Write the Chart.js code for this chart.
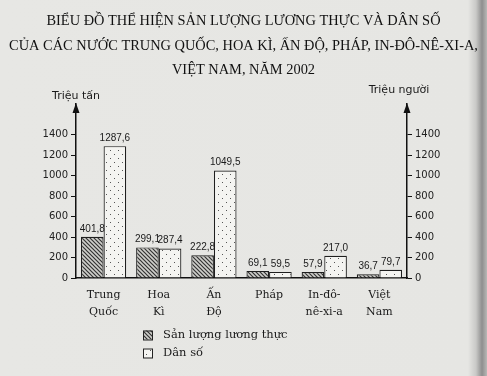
<!DOCTYPE html>
<html>
<head>
<meta charset="utf-8">
<script src="https://cdn.jsdelivr.net/npm/chart.js@4.4.1/dist/chart.umd.min.js"></script>
<style>
  html, body { margin: 0; padding: 0; }
  body {
    width: 487px; height: 376px; overflow: hidden;
    background: linear-gradient(to right, #e7e7e4 0px, #e6e6e3 468px, #c9c9c7 476px, #8e8e8e 482px, #b8b8b6 487px);
  }
  #wrap { position: relative; width: 487px; height: 376px; }
</style>
</head>
<body>
<div id="wrap"><canvas id="c" width="487" height="376"></canvas></div>
<script>
// ---- data ----
const titleLines = [
  'BIỂU ĐỒ THỂ HIỆN SẢN LƯỢNG LƯƠNG THỰC VÀ DÂN SỐ',
  'CỦA CÁC NƯỚC TRUNG QUỐC, HOA KÌ, ẤN ĐỘ, PHÁP, IN-ĐÔ-NÊ-XI-A,',
  'VIỆT NAM, NĂM 2002'
];
const countries = [['Trung', 'Quốc'], ['Hoa', 'Kì'], ['Ấn', 'Độ'], ['Pháp'], ['In-đô-', 'nê-xi-a'], ['Việt', 'Nam']];
const foodOutput = [401.8, 299.1, 222.8, 69.1, 57.9, 36.7];     // triệu tấn
const population = [1287.6, 287.4, 1049.5, 59.5, 217.0, 79.7];  // triệu người
const seriesNames = ['Sản lượng lương thực', 'Dân số'];
const leftAxisTitle = 'Triệu tấn';
const rightAxisTitle = 'Triệu người';
const tickValues = [0, 200, 400, 600, 800, 1000, 1200, 1400];

// ---- patterns ----
function hatchPattern() {
  const t = document.createElement('canvas');
  t.width = 4; t.height = 4;
  const g = t.getContext('2d');
  g.fillStyle = '#cfcfcb';
  g.fillRect(0, 0, 4, 4);
  g.strokeStyle = '#333';
  g.lineWidth = 1.2;
  g.beginPath();
  g.moveTo(-1, -1); g.lineTo(5, 5);
  g.moveTo(-1, 3); g.lineTo(1, 5);
  g.moveTo(3, -1); g.lineTo(5, 1);
  g.stroke();
  return t.getContext('2d').createPattern(t, 'repeat');
}
function dotPattern() {
  const t = document.createElement('canvas');
  t.width = 8; t.height = 8;
  const g = t.getContext('2d');
  g.fillStyle = '#f4f4f1';
  g.fillRect(0, 0, 8, 8);
  g.fillStyle = '#555';
  g.fillRect(2, 2, 1, 1);
  g.fillRect(6, 6, 1, 1);
  return t.getContext('2d').createPattern(t, 'repeat');
}
const hatch = hatchPattern();
const dots = dotPattern();

const fmt = v => v.toFixed(1).replace('.', ',');

// ---- plugins ----
const decor = {
  id: 'decor',
  afterDatasetsDraw(chart) {
    const ctx = chart.ctx;
    const area = chart.chartArea;
    ctx.save();
    // value labels
    ctx.font = '10px "Liberation Sans"';
    ctx.fillStyle = '#1a1a1a';
    ctx.textAlign = 'center';
    ctx.textBaseline = 'bottom';
    chart.data.datasets.forEach((ds, i) => {
      const meta = chart.getDatasetMeta(i);
      meta.data.forEach((el, j) => {
        ctx.fillText(fmt(ds.data[j]), el.x, el.y - 3);
      });
    });
    // axis arrows
    ctx.fillStyle = '#111';
    [chart.scales.y, chart.scales.y1].forEach(s => {
      const x = s.position === 'left' ? s.right : s.left;
      const top = area.top - 1;
      ctx.beginPath();
      ctx.moveTo(x, top);
      ctx.lineTo(x - 3.5, top + 10);
      ctx.lineTo(x + 3.5, top + 10);
      ctx.closePath();
      ctx.fill();
    });
    // axis titles
    ctx.font = '11px "DejaVu Sans"';
    ctx.fillStyle = '#1a1a1a';
    ctx.textBaseline = 'middle';
    ctx.textAlign = 'center';
    ctx.fillText(leftAxisTitle, chart.scales.y.right, area.top - 8);
    ctx.fillText(rightAxisTitle, chart.scales.y1.left - 8, area.top - 14);
    // legend
    const lx = 143, ly = [335, 353];
    const fills = [hatch, dots];
    ctx.font = '11.5px "DejaVu Serif"';
    ctx.textAlign = 'left';
    ctx.textBaseline = 'middle';
    seriesNames.forEach((name, i) => {
      ctx.fillStyle = fills[i];
      ctx.fillRect(lx, ly[i] - 4.5, 9, 9);
      ctx.strokeStyle = '#222';
      ctx.lineWidth = 1;
      ctx.strokeRect(lx + 0.5, ly[i] - 4, 9, 9);
      ctx.fillStyle = '#1a1a1a';
      ctx.fillText(name, lx + 20, ly[i]);
    });
    ctx.restore();
  }
};

const yCommon = (pos, width) => ({
  type: 'linear',
  position: pos,
  min: 0,
  max: 1700,
  afterBuildTicks: s => { s.ticks = tickValues.map(v => ({ value: v })); },
  afterFit: s => { s.width = width; },
  grid: { display: true, drawOnChartArea: false, drawTicks: true, tickLength: 5, color: '#111', lineWidth: 1 },
  border: { display: true, color: '#111', width: 1.5 },
  ticks: {
    padding: 3,
    color: '#222',
    font: { family: 'DejaVu Sans', size: 10 },
    callback: v => String(v)
  }
});

new Chart(document.getElementById('c'), {
  type: 'bar',
  data: {
    labels: countries,
    datasets: [
      { label: seriesNames[0], data: foodOutput, yAxisID: 'y', backgroundColor: hatch, borderColor: '#1e1e1e', borderWidth: 1.2 },
      { label: seriesNames[1], data: population, yAxisID: 'y1', backgroundColor: dots, borderColor: '#1e1e1e', borderWidth: 1.2 }
    ]
  },
  options: {
    responsive: false,
    animation: false,
    devicePixelRatio: 1,
    layout: { padding: { left: 0, right: 0, top: 0, bottom: 56 } },
    datasets: { bar: { categoryPercentage: 0.82, barPercentage: 1.0 } },
    plugins: {
      legend: { display: false },
      tooltip: { enabled: false },
      title: {
        display: true,
        text: titleLines,
        color: '#111',
        font: { family: 'Liberation Serif', size: 14.4, weight: 'normal', lineHeight: 1.7 },
        padding: { top: 9, bottom: 21.5 }
      }
    },
    scales: {
      x: {
        type: 'category',
        afterFit: s => { s.height = 42; },
        grid: { display: false, drawTicks: false },
        border: { display: true, color: '#111', width: 1.5 },
        ticks: {
          padding: 8,
          color: '#1a1a1a',
          maxRotation: 0,
          autoSkip: false,
          font: { family: 'DejaVu Serif', size: 11, lineHeight: 1.6 }
        }
      },
      y: yCommon('left', 76),
      y1: yCommon('right', 80)
    }
  },
  plugins: [decor]
});
</script>
</body>
</html>
